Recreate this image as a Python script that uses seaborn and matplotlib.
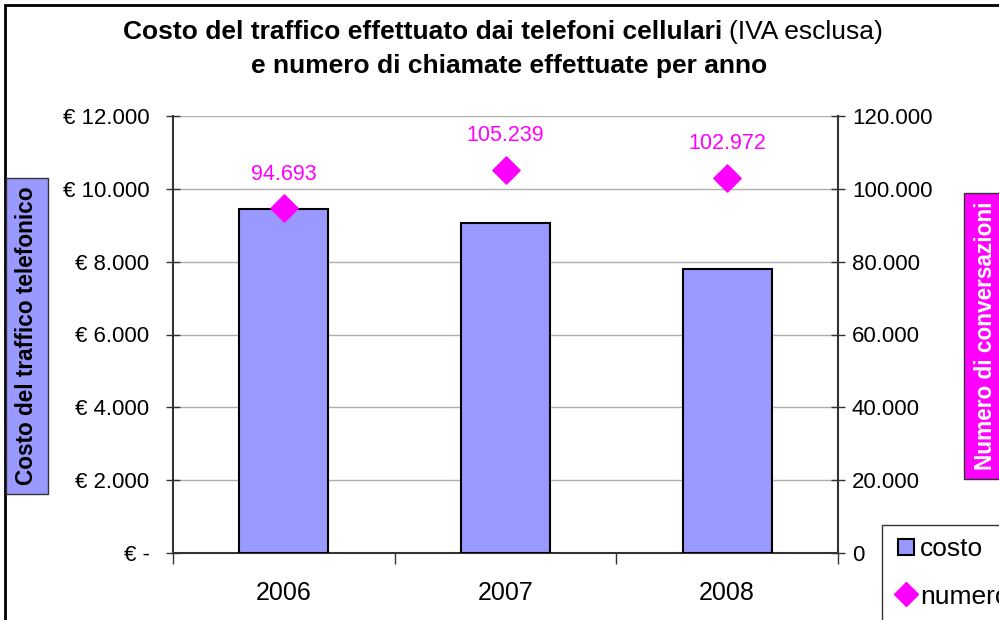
'''Costo del traffico telefonico e numero di chiamate'''

import matplotlib
matplotlib.use('Agg')
import matplotlib.pyplot as plt
import matplotlib.ticker as mticker
from matplotlib.lines import Line2D
from matplotlib.patches import Rectangle
import seaborn as sns
import pandas as pd

#data
anni = ['2006', '2007', '2008']
costo = [9450, 9060, 7800]
numero = [94693, 105239, 102972]
etichette_numero = ['94.693', '105.239', '102.972']

BAR_COL = '#9999FF'
MAG = '#FF00FF'

sns.set_theme(style='white')
plt.rcParams['font.family'] = ['Liberation Sans', 'DejaVu Sans']
plt.rcParams['text.color'] = 'black'
plt.rcParams['xtick.labelcolor'] = 'black'
plt.rcParams['ytick.labelcolor'] = 'black'

df = pd.DataFrame({'anno': anni, 'costo': costo, 'numero': numero})

fig = plt.figure(figsize=(9.99, 6.2), dpi=100)
ax = fig.add_axes([173/999, 1 - 553/620, (838 - 173)/999, (553 - 116)/620])

sns.barplot(data=df, x='anno', y='costo', color=BAR_COL, width=0.4,
            edgecolor='black', linewidth=1.5, saturation=1, ax=ax, zorder=3)
ax.set_ylim(0, 12000)
ax.set_yticks(range(0, 12001, 2000))
ax.yaxis.set_major_formatter(mticker.FuncFormatter(
    lambda v, p: '€ -' if v == 0 else '€ ' + f'{int(v):,}'.replace(',', '.')))
ax.grid(axis='y', color='#b0b0b0', linewidth=1, zorder=0)
ax.set_axisbelow(True)
ax.set_xlim(-0.5, 2.5)
ax.set_xlabel('')
ax.set_ylabel('')

#twin axis for the number of calls
ax2 = ax.twinx()
sns.scatterplot(data=df, x='anno', y='numero', marker='D', s=190, color=MAG,
                edgecolor=MAG, ax=ax2, zorder=5, legend=False)
ax2.set_ylim(0, 120000)
ax2.set_yticks(range(0, 120001, 20000))
ax2.yaxis.set_major_formatter(mticker.FuncFormatter(
    lambda v, p: '0' if v == 0 else f'{int(v):,}'.replace(',', '.')))
ax2.set_ylabel('')
ax2.set_xlim(-0.5, 2.5)
for i, (v, t) in enumerate(zip(numero, etichette_numero)):
    ax2.annotate(t, (i, v), xytext=(0, 17), textcoords='offset points',
                 ha='center', va='bottom', color=MAG, fontsize=15.5)

#spines and ticks
for a in (ax, ax2):
    for s in a.spines.values():
        s.set_visible(False)
ax.spines['left'].set_visible(True)
ax.spines['bottom'].set_visible(True)
ax2.spines['right'].set_visible(True)
for s in (ax.spines['left'], ax.spines['bottom'], ax2.spines['right']):
    s.set_color('#333333')
    s.set_linewidth(1.5)

ax.tick_params(axis='y', direction='inout', length=10, width=1, color='#333333',
               labelsize=16, pad=12, left=True, labelcolor='black')
ax2.tick_params(axis='y', direction='inout', length=10, width=1, color='#333333',
                labelsize=16, pad=5, right=True, labelcolor='black')
ax.tick_params(axis='x', length=0, labelsize=18, pad=20, labelcolor='black')
ax.set_xticks([-0.5, 0.5, 1.5, 2.5], minor=True)
ax.tick_params(axis='x', which='minor', direction='out', length=8, width=1,
               color='#333333', bottom=True)

#title
t1 = fig.text(123/999, 1 - 32/620, 'Costo del traffico effettuato dai telefoni cellulari',
              ha='left', va='center', fontsize=19, fontweight='bold')
fig.canvas.draw()
bb = t1.get_window_extent()
fig.text((bb.x1 + 7)/999, 1 - 32/620, '(IVA esclusa)', ha='left', va='center',
         fontsize=19)
fig.text(509/999, 1 - 66/620, 'e numero di chiamate effettuate per anno',
         ha='center', va='center', fontsize=19, fontweight='bold')

#side labels
fig.text(27/999, 1 - 336/620, 'Costo del traffico telefonico', rotation=90,
         ha='center', va='center', fontsize=16.3, fontweight='bold',
         bbox=dict(boxstyle='square,pad=0.4', facecolor=BAR_COL,
                   edgecolor='#333333', linewidth=1))
fig.text(985/999, 1 - 336/620, 'Numero di conversazioni', rotation=90,
         ha='center', va='center', fontsize=16.3, fontweight='bold', color='white',
         bbox=dict(boxstyle='square,pad=0.4', facecolor=MAG,
                   edgecolor='#333333', linewidth=1))

#legend
handles = [Line2D([], [], marker='s', linestyle='', markersize=12,
                  markerfacecolor=BAR_COL, markeredgecolor='black',
                  markeredgewidth=1.5),
           Line2D([], [], marker='D', linestyle='', markersize=12,
                  markerfacecolor=MAG, markeredgecolor=MAG)]
leg = fig.legend(handles, ['costo', 'numero'], loc='upper left',
                 bbox_to_anchor=(882/999, 1 - 525/620), fontsize=19,
                 frameon=True, fancybox=False, edgecolor='black',
                 handletextpad=0.1, handlelength=0.9, labelspacing=0.9,
                 borderpad=0.45, borderaxespad=0)
leg.get_frame().set_linewidth(1)

#outer frame
fig.patches.append(Rectangle((5/999, -0.1), 2, 1.1 - 5/620, fill=False,
                             edgecolor='black', linewidth=2,
                             transform=fig.transFigure))

plt.savefig('out.png', dpi=100)
